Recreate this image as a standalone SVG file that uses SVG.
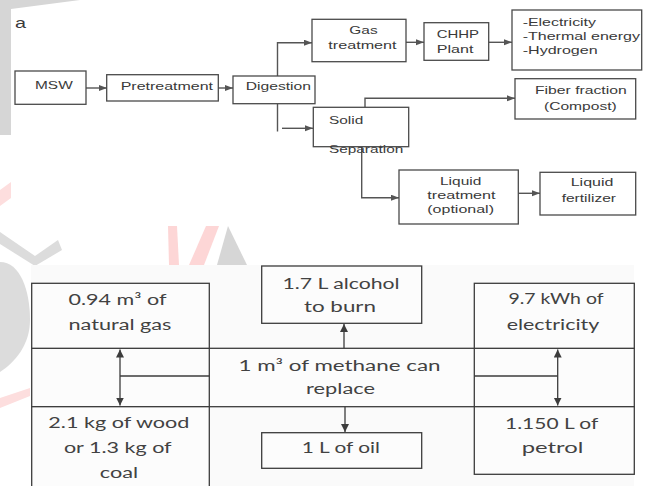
<svg xmlns="http://www.w3.org/2000/svg" width="648" height="486" viewBox="0 0 648 486">
<style>
.bx{fill:#ffffff;stroke:#4a4a4a;stroke-width:1.3}
.lb{fill:#fcfcfc;stroke:#3c3c3c;stroke-width:1.3}
.t{font-family:"Liberation Sans",Arial,sans-serif;font-size:11.5px;fill:#3a3a3a}
.L{font-family:Lato,"Open Sans",sans-serif;font-size:15.5px;fill:#424242;text-anchor:middle}
.cn{fill:none;stroke:#555;stroke-width:1.4}
.cl{fill:none;stroke:#3c3c3c;stroke-width:1.3}
</style>
<defs>
<marker id="ah" markerUnits="userSpaceOnUse" markerWidth="9" markerHeight="7" refX="8" refY="3" orient="auto"><path d="M0,0 L8,3 L0,6 z" fill="#555"/></marker>
<marker id="ah2" markerUnits="userSpaceOnUse" markerWidth="9" markerHeight="9" refX="8" refY="4" orient="auto-start-reverse"><path d="M0,0 L8,4 L0,8 z" fill="#3c3c3c"/></marker>
</defs>
<rect width="648" height="486" fill="#ffffff"/>
<g id="watermark">
<path d="M0,0 H80 L11,9 V135 H0 Z" fill="#d6d6d6"/>
<path d="M0,190 L11,182 V198 L0,206 Z" fill="#fddede"/>
<path d="M0,262 C20,262 30,290 30,320 C30,345 15,362 0,372 Z" fill="#dcdcdc"/>
<path d="M0,232 L35,256 L58,240 L62,250 L35,266 L0,244 Z" fill="#dcdcdc"/>
<path d="M168,226 H177 L179,265 H169 Z" fill="#fdd6d6"/>
<path d="M206,226 H219 L204,265 H189 Z" fill="#fdd6d6"/>
<path d="M228,226 L247,265 H217 Z" fill="#d6d6d6"/>
<path d="M0,398 L30,388 V396 L0,408 Z" fill="#fddede"/>
</g>
<rect x="31" y="265" width="603" height="221" fill="#fafafa"/>
<g id="top-connectors">
<line class="cn" x1="86" y1="88" x2="107" y2="88" marker-end="url(#ah)"/>
<line class="cn" x1="218" y1="88" x2="233" y2="88" marker-end="url(#ah)"/>
<path class="cn" d="M277.5,76 V42.7 H312" marker-end="url(#ah)"/>
<line class="cn" x1="277.5" y1="104" x2="277.5" y2="131.5"/>
<line class="cn" x1="282" y1="128.3" x2="313" y2="128.3" marker-end="url(#ah)"/>
<line class="cn" x1="406" y1="42.3" x2="424" y2="42.3" marker-end="url(#ah)"/>
<line class="cn" x1="489" y1="42.3" x2="512" y2="42.3" marker-end="url(#ah)"/>
<path class="cn" d="M365,107.3 V98.3 H515" marker-end="url(#ah)"/>
<path class="cn" d="M361.7,146.7 V197.7 H399" marker-end="url(#ah)"/>
<line class="cn" x1="518.3" y1="193.3" x2="540" y2="193.3" marker-end="url(#ah)"/>
</g>
<text class="t" x="15" y="27.7" style="font-size:15px" textLength="11" lengthAdjust="spacingAndGlyphs">a</text>
<g id="msw"><rect class="bx" x="15" y="71" width="71" height="33.3"/><text class="t" x="35" y="89" textLength="37.7" lengthAdjust="spacingAndGlyphs">MSW</text></g>
<g id="pretreatment"><rect class="bx" x="106.7" y="74.7" width="111.6" height="26.3"/><text class="t" x="120.7" y="90" textLength="92.3" lengthAdjust="spacingAndGlyphs">Pretreatment</text></g>
<g id="digestion"><rect class="bx" x="233" y="76" width="82" height="27.7"/><text class="t" x="245.7" y="90" textLength="65.3" lengthAdjust="spacingAndGlyphs">Digestion</text></g>
<g id="gas-treatment"><rect class="bx" x="312" y="19.3" width="94" height="42.4"/><text class="t" x="349.3" y="34" textLength="28.3" lengthAdjust="spacingAndGlyphs">Gas</text><text class="t" x="328.3" y="48.5" textLength="68.3" lengthAdjust="spacingAndGlyphs">treatment</text></g>
<g id="chhp"><rect class="bx" x="424" y="22.7" width="64.7" height="37.6"/><text class="t" x="436.7" y="37.7" textLength="42.3" lengthAdjust="spacingAndGlyphs">CHHP</text><text class="t" x="436.7" y="52.7" textLength="36.7" lengthAdjust="spacingAndGlyphs">Plant</text></g>
<g id="outputs"><rect class="bx" x="512" y="10" width="129.7" height="60"/><text class="t" x="522.7" y="26" textLength="73.3" lengthAdjust="spacingAndGlyphs">-Electricity</text><text class="t" x="522.7" y="40" textLength="117.3" lengthAdjust="spacingAndGlyphs">-Thermal energy</text><text class="t" x="522.7" y="54.3" textLength="75" lengthAdjust="spacingAndGlyphs">-Hydrogen</text></g>
<g id="solid-separation"><rect class="bx" x="313.3" y="107.3" width="95.4" height="39.4"/><text class="t" x="329" y="124" textLength="34.3" lengthAdjust="spacingAndGlyphs">Solid</text><text class="t" x="329" y="153.3" textLength="74.3" lengthAdjust="spacingAndGlyphs">Separation</text></g>
<g id="fiber"><rect class="bx" x="515" y="78.7" width="120.7" height="40.3"/><text class="t" x="535" y="94.3" textLength="91.7" lengthAdjust="spacingAndGlyphs">Fiber fraction</text><text class="t" x="544" y="110" textLength="72.7" lengthAdjust="spacingAndGlyphs">(Compost)</text></g>
<g id="liquid-treatment"><rect class="bx" x="399" y="170" width="119.3" height="54"/><text class="t" x="440" y="185" textLength="41.3" lengthAdjust="spacingAndGlyphs">Liquid</text><text class="t" x="427.3" y="199" textLength="68.3" lengthAdjust="spacingAndGlyphs">treatment</text><text class="t" x="427.3" y="213.3" textLength="66.7" lengthAdjust="spacingAndGlyphs">(optional)</text></g>
<g id="liquid-fertilizer"><rect class="bx" x="540" y="172.3" width="95.7" height="42.7"/><text class="t" x="570.7" y="185.7" textLength="42.7" lengthAdjust="spacingAndGlyphs">Liquid</text><text class="t" x="561.7" y="201.7" textLength="54.3" lengthAdjust="spacingAndGlyphs">fertilizer</text></g>
<g id="methane"><rect class="lb" x="31.7" y="348.3" width="602.6" height="58.4"/><text class="L" x="339.5" y="370.7" textLength="202" lengthAdjust="spacingAndGlyphs">1 m³ of methane can</text><text class="L" x="340.5" y="394" textLength="69" lengthAdjust="spacingAndGlyphs">replace</text></g>
<g id="natural-gas"><rect class="lb" x="31.7" y="283.3" width="177.6" height="65"/><text class="L" x="117.5" y="305" textLength="98" lengthAdjust="spacingAndGlyphs">0.94 m³ of</text><text class="L" x="120" y="330" textLength="103" lengthAdjust="spacingAndGlyphs">natural gas</text></g>
<g id="alcohol"><rect class="lb" x="261.7" y="266" width="160" height="57.3"/><text class="L" x="341" y="288.5" textLength="117" lengthAdjust="spacingAndGlyphs">1.7 L alcohol</text><text class="L" x="340" y="311.7" textLength="72" lengthAdjust="spacingAndGlyphs">to burn</text></g>
<g id="electricity"><rect class="lb" x="474.3" y="283.3" width="160" height="65"/><text class="L" x="556" y="304" textLength="95" lengthAdjust="spacingAndGlyphs">9.7 kWh of</text><text class="L" x="553" y="330" textLength="92.7" lengthAdjust="spacingAndGlyphs">electricity</text></g>
<g id="wood-coal"><rect class="lb" x="31.7" y="406.7" width="177.6" height="90"/><text class="L" x="118.8" y="428.3" textLength="141" lengthAdjust="spacingAndGlyphs">2.1 kg of wood</text><text class="L" x="117.8" y="453.3" textLength="107.7" lengthAdjust="spacingAndGlyphs">or 1.3 kg of</text><text class="L" x="119" y="478.3" textLength="38.3" lengthAdjust="spacingAndGlyphs">coal</text></g>
<g id="oil"><rect class="lb" x="261.7" y="432.7" width="160" height="35.6"/><text class="L" x="340.8" y="453.3" textLength="78.3" lengthAdjust="spacingAndGlyphs">1 L of oil</text></g>
<g id="petrol"><rect class="lb" x="474.3" y="406.7" width="160" height="67.6"/><text class="L" x="551.7" y="429.3" textLength="93.3" lengthAdjust="spacingAndGlyphs">1.150 L of</text><text class="L" x="552.5" y="453.3" textLength="61.7" lengthAdjust="spacingAndGlyphs">petrol</text></g>
<g id="bottom-connectors">
<line class="cl" x1="209.3" y1="348.3" x2="209.3" y2="406.7"/>
<line class="cl" x1="474.3" y1="348.3" x2="474.3" y2="406.7"/>
<line class="cl" x1="120" y1="349.5" x2="120" y2="405.5" marker-start="url(#ah2)" marker-end="url(#ah2)"/>
<line class="cl" x1="120" y1="376" x2="209.3" y2="376"/>
<line class="cl" x1="557.7" y1="349.5" x2="557.7" y2="405.5" marker-start="url(#ah2)" marker-end="url(#ah2)"/>
<line class="cl" x1="474.3" y1="376" x2="557.7" y2="376"/>
<line class="cl" x1="344" y1="348.3" x2="344" y2="324" marker-end="url(#ah2)"/>
<line class="cl" x1="345" y1="406.7" x2="345" y2="432" marker-end="url(#ah2)"/>
</g>
</svg>
